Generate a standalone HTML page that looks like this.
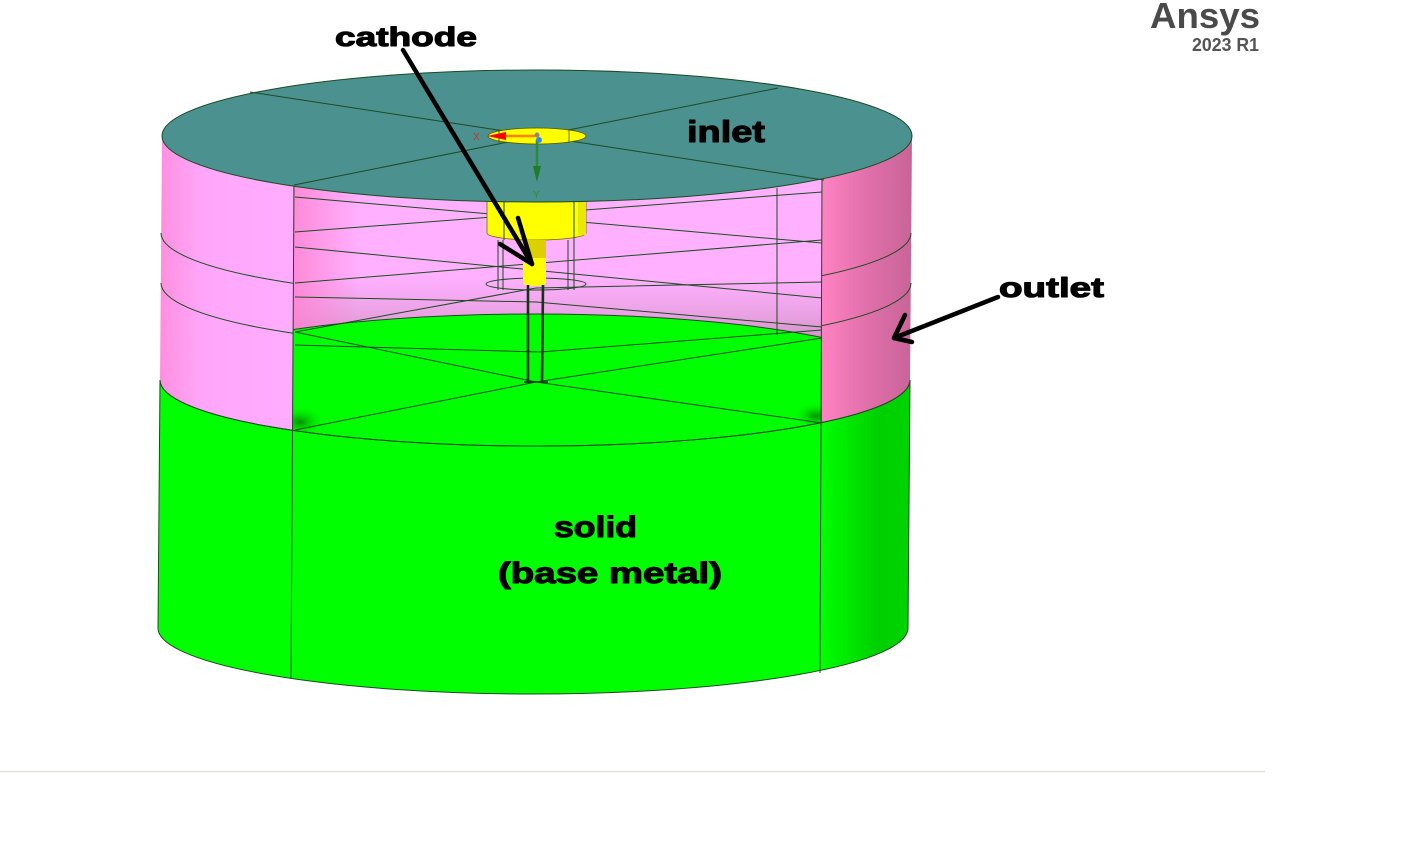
<!DOCTYPE html>
<html>
<head>
<meta charset="utf-8">
<style>
html,body{margin:0;padding:0;background:#ffffff;}
svg{display:block;}
text{font-family:"Liberation Sans",Arial,sans-serif;font-weight:bold;}
</style>
</head>
<body>
<svg width="1410" height="841" viewBox="0 0 1410 841" xmlns="http://www.w3.org/2000/svg">
<defs>
  <linearGradient id="pinkSide" gradientUnits="userSpaceOnUse" x1="160" y1="0" x2="912" y2="0">
    <stop offset="0" stop-color="#ff8fdf"/>
    <stop offset="0.055" stop-color="#ffa6fa"/>
    <stop offset="0.177" stop-color="#ffacff"/>
    <stop offset="0.876" stop-color="#ffacff"/>
    <stop offset="0.880" stop-color="#ff82c2"/>
    <stop offset="0.94" stop-color="#e070aa"/>
    <stop offset="1" stop-color="#c86498"/>
  </linearGradient>
  <linearGradient id="greenSide" gradientUnits="userSpaceOnUse" x1="158" y1="0" x2="908" y2="0">
    <stop offset="0" stop-color="#00ff00"/>
    <stop offset="0.885" stop-color="#00ff00"/>
    <stop offset="0.96" stop-color="#00cf00"/>
    <stop offset="1" stop-color="#00d400"/>
  </linearGradient>
  <linearGradient id="backWall" gradientUnits="userSpaceOnUse" x1="0" y1="180" x2="0" y2="338">
    <stop offset="0" stop-color="#ffb0ff"/>
    <stop offset="0.62" stop-color="#ffb0ff"/>
    <stop offset="0.85" stop-color="#eaa2e4"/>
    <stop offset="1" stop-color="#d495c8"/>
  </linearGradient>
  <linearGradient id="wallLeft" gradientUnits="userSpaceOnUse" x1="293" y1="0" x2="360" y2="0">
    <stop offset="0" stop-color="#ff80d0" stop-opacity="0.8"/>
    <stop offset="1" stop-color="#ff80d0" stop-opacity="0"/>
  </linearGradient>
  <radialGradient id="darkSpot" cx="0.5" cy="0.5" r="0.5">
    <stop offset="0" stop-color="#007a00" stop-opacity="0.85"/>
    <stop offset="1" stop-color="#00ff00" stop-opacity="0"/>
  </radialGradient>
  <clipPath id="cutClip">
    <path d="M293,100 L822,100 L822,422.5 A375,66 0 0 1 293,430.4 Z"/>
  </clipPath>
  <clipPath id="outsideCut">
    <path d="M100,100 L293,100 L293,700 L100,700 Z M822,100 L960,100 L960,700 L822,700 Z"/>
  </clipPath>
</defs>

<rect x="0" y="0" width="1410" height="841" fill="#ffffff"/>

<path d="M162,136 L160,380 A375,66 0 0 0 910,380 L912,136 A375,66 0 0 1 162,136 Z" fill="url(#pinkSide)"/>

<path d="M160,380 L158,628 A375,66 0 0 0 908,628 L910,380 A375,66 0 0 1 160,380 Z" fill="url(#greenSide)" stroke="#1d4a22" stroke-width="1"/>

<g clip-path="url(#cutClip)">
  <rect x="293" y="100" width="529" height="340" fill="url(#backWall)"/>
  <rect x="293" y="100" width="70" height="340" fill="url(#wallLeft)"/>
  <ellipse cx="535" cy="380" rx="375" ry="66" fill="#00ff00"/>
  <ellipse cx="300" cy="422" rx="26" ry="16" fill="url(#darkSpot)"/>
  <ellipse cx="816" cy="416" rx="24" ry="14" fill="url(#darkSpot)"/>
  <ellipse cx="535" cy="380" rx="375" ry="66" fill="none" stroke="#1d4a22" stroke-width="1"/>
  <g stroke="#1d4a22" stroke-width="1" fill="none">
    <line x1="295" y1="197" x2="822" y2="243"/>
    <line x1="295" y1="232" x2="822" y2="192"/>
    <line x1="295" y1="247" x2="822" y2="298"/>
    <line x1="295" y1="283" x2="822" y2="240"/>
    <polyline points="295,297 536,302 822,327"/>
    <polyline points="295,332 536,288 822,282"/>
    <line x1="777" y1="188" x2="777" y2="335"/>
    <line x1="295" y1="430" x2="536" y2="382"/>
    <line x1="536" y1="382" x2="822" y2="423"/>
    <line x1="295" y1="332" x2="536" y2="382"/>
    <polyline points="295,345 540,352 822,330"/>
    <line x1="536" y1="382" x2="822" y2="338"/>
  </g>
</g>

<g clip-path="url(#outsideCut)" fill="none" stroke="#1d4a22" stroke-width="1">
  <path d="M161,233 A375,66 0 0 0 911,233"/>
  <path d="M161,283 A375,66 0 0 0 911,283"/>
</g>
<path d="M160,380 A375,66 0 0 0 910,380" fill="none" stroke="#1d4a22" stroke-width="1"/>

<path d="M487,190 L487,233 A49,7 0 0 0 586,233 L586,190 Z" fill="#ffff00" stroke="#6a6a00" stroke-width="0.8"/>
<rect x="578" y="195" width="8" height="40" fill="#e8e800"/>
<g stroke="#1d4a22" stroke-width="1">
  <line x1="504" y1="200" x2="504" y2="240"/>
  <line x1="574" y1="200" x2="574" y2="240"/>
  <line x1="498" y1="240" x2="498" y2="290"/>
  <line x1="503" y1="240" x2="503" y2="290"/>
  <line x1="568" y1="240" x2="568" y2="290"/>
  <line x1="574" y1="240" x2="574" y2="290"/>
</g>
<ellipse cx="536" cy="284" rx="50" ry="6" fill="none" stroke="#1d4a22" stroke-width="1"/>
<path d="M523,240 L523,283 A11.5,3 0 0 0 546,283 L546,240 Z" fill="#ffff00"/>
<rect x="523" y="240" width="23" height="18" fill="#dcd000"/>
<g stroke="#163416" stroke-width="2.6">
  <line x1="528" y1="285" x2="528" y2="383"/>
  <line x1="543" y1="285" x2="542" y2="383"/>
</g>
<line x1="524" y1="382" x2="548" y2="382" stroke="#163416" stroke-width="1.5"/>

<g stroke="#1d4a22" stroke-width="1">
  <line x1="294" y1="185" x2="291" y2="678"/>
  <line x1="822" y1="179" x2="820" y2="673"/>
</g>

<ellipse cx="537" cy="136" rx="375" ry="66" fill="#4a918f" stroke="#1d4a22" stroke-width="1"/>
<g stroke="#1d4a22" stroke-width="1">
  <line x1="250" y1="92" x2="824" y2="180"/>
  <line x1="294" y1="185" x2="778" y2="88"/>
</g>

<ellipse cx="537" cy="136" rx="49" ry="8" fill="#ffff00" stroke="#555500" stroke-width="0.8"/>
<line x1="499" y1="129" x2="499" y2="143" stroke="#555500" stroke-width="0.8"/>
<line x1="569" y1="129" x2="569" y2="143" stroke="#555500" stroke-width="0.8"/>

<line x1="503" y1="136" x2="535" y2="136" stroke="#ff8000" stroke-width="2.5"/>
<polygon points="487,136 506,132 506,140" fill="#ff0000"/>
<text x="473" y="140" font-size="10" fill="#cc3322" style="font-weight:normal">X</text>
<line x1="537" y1="140" x2="537" y2="170" stroke="#2e8a3a" stroke-width="2.5"/>
<polygon points="533,166 541,166 537,182" fill="#1f7a2a"/>
<text x="533" y="198" font-size="10" fill="#2e8a3a" style="font-weight:normal">Y</text>
<circle cx="537" cy="135" r="2.5" fill="#888888"/>
<circle cx="539" cy="140" r="3" fill="#3388ee"/>

<g stroke="#000000" stroke-width="4.5" stroke-linecap="round" fill="none">
  <line x1="403" y1="50" x2="532" y2="264"/>
  <line x1="518" y1="218" x2="532" y2="264"/>
  <line x1="500" y1="244" x2="532" y2="264"/>
</g>

<g stroke="#000000" stroke-width="4.5" stroke-linecap="round" stroke-linejoin="round" fill="none">
  <line x1="998" y1="297" x2="894" y2="338"/>
  <polyline points="905,315 894,338 912,342"/>
</g>

<g fill="#000" stroke="#000" stroke-width="1.1" stroke-linejoin="round">
<text x="335" y="46" font-size="27" textLength="142" lengthAdjust="spacingAndGlyphs">cathode</text>
<text x="687" y="142" font-size="31" textLength="78" lengthAdjust="spacingAndGlyphs">inlet</text>
<text x="999" y="297" font-size="28" textLength="105" lengthAdjust="spacingAndGlyphs">outlet</text>
<text x="554" y="537" font-size="30" textLength="83" lengthAdjust="spacingAndGlyphs">solid</text>
<text x="498" y="583" font-size="30" textLength="224" lengthAdjust="spacingAndGlyphs">(base metal)</text>
</g>

<text x="1150" y="28" font-size="36" textLength="110" lengthAdjust="spacingAndGlyphs" fill="#4a4a4a">Ansys</text>
<text x="1192" y="51" font-size="18" textLength="67" lengthAdjust="spacingAndGlyphs" fill="#555555">2023 R1</text>

<line x1="0" y1="771.5" x2="1265" y2="771.5" stroke="#e2e2da" stroke-width="1.5"/>
</svg>
</body>
</html>
